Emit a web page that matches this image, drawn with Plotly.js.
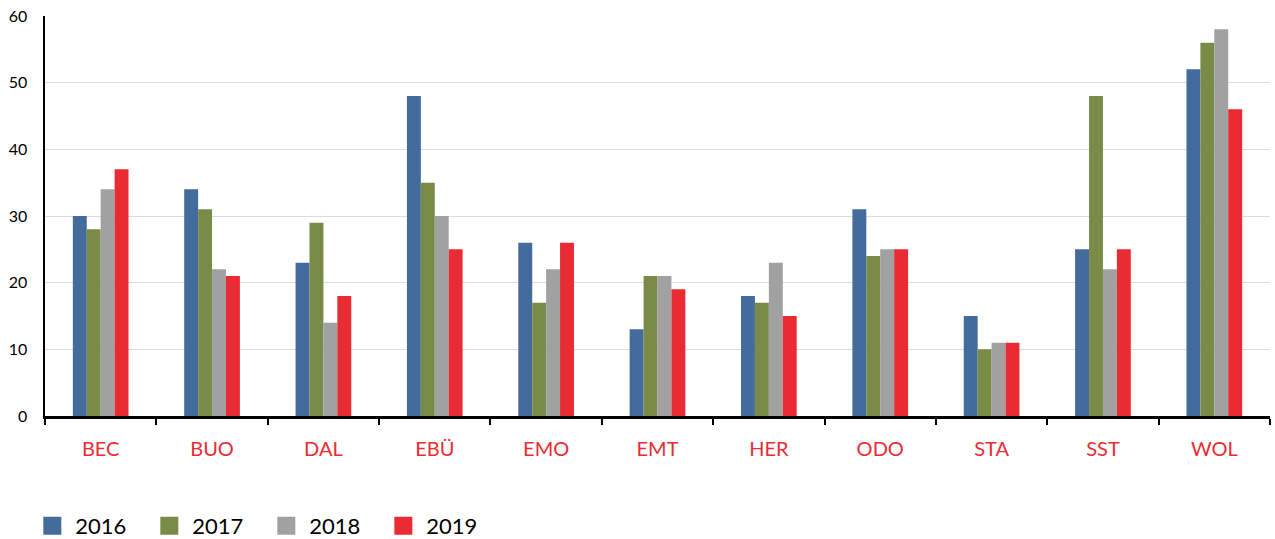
<!DOCTYPE html>
<html>
<head>
<meta charset="utf-8">
<script src="https://cdn.plot.ly/plotly-3.0.1.min.js"></script>
<style>html,body{margin:0;padding:0;background:#fff;}</style>
</head>
<body>
<div id="chart" style="width:1275px;height:539px;"></div>
<script>
const categories = ["BEC","BUO","DAL","EBÜ","EMO","EMT","HER","ODO","STA","SST","WOL"];
const years = ["2016","2017","2018","2019"];
const v2016 = [30,34,23,48,26,13,18,31,15,25,52];
const v2017 = [28,31,29,35,17,21,17,24,10,48,56];
const v2018 = [34,22,14,30,22,21,23,25,11,22,58];
const v2019 = [37,21,18,25,26,19,15,25,11,25,46];
const yTicks = [0,10,20,30,40,50,60];

const series = [v2016, v2017, v2018, v2019];
const colors = ["#436b9c","#7a8a47","#a0a1a0","#e92b33"];

const traces = series.map((vals, i) => ({
  type: "bar",
  name: years[i],
  x: categories,
  y: vals,
  marker: {color: colors[i], line: {width: 0}},
  hoverinfo: "x+y+name"
}));

const layout = {
  width: 1275,
  height: 539,
  margin: {l: 45, r: 5, t: 16, b: 123, autoexpand: false},
  paper_bgcolor: "#fff",
  plot_bgcolor: "#fff",
  font: {family: "Lato, 'Open Sans', sans-serif", color: "#000"},
  barmode: "group",
  bargap: 0.5,
  bargroupgap: 0,
  showlegend: true,
  legend: {
    orientation: "h",
    x: -0.0079,
    xanchor: "left",
    y: -0.275,
    yanchor: "middle",
    font: {size: 22, color: "#000"},
    entrywidth: 72,
    entrywidthmode: "pixels",
    traceorder: "normal"
  },
  xaxis: {
    type: "category",
    tickson: "boundaries",
    ticks: "outside",
    ticklen: 6,
    tickwidth: 2,
    tickcolor: "#000",
    showline: true,
    linecolor: "#000",
    linewidth: 2.5,
    showgrid: false,
    tickfont: {size: 20, color: "#e92b33"},
    ticklabelstandoff: 13,
    fixedrange: true
  },
  yaxis: {
    range: [0, 60],
    tickvals: yTicks,
    ticktext: yTicks.map(String),
    showline: true,
    linecolor: "#000",
    linewidth: 2.5,
    showgrid: true,
    gridcolor: "#dcdcdc",
    gridwidth: 1,
    zeroline: false,
    ticks: "",
    tickfont: {size: 16, color: "#000"},
    ticklabelstandoff: 12,
    fixedrange: true
  }
};

Plotly.newPlot("chart", traces, layout, {displayModeBar: false, staticPlot: true}).then(() => {
  document.querySelectorAll("#chart .legendpoints path").forEach(p => {
    p.setAttribute("d", "M9,9H-9V-9H9Z");
    p.setAttribute("transform", "translate(17,0)");
  });
});
</script>
</body>
</html>
